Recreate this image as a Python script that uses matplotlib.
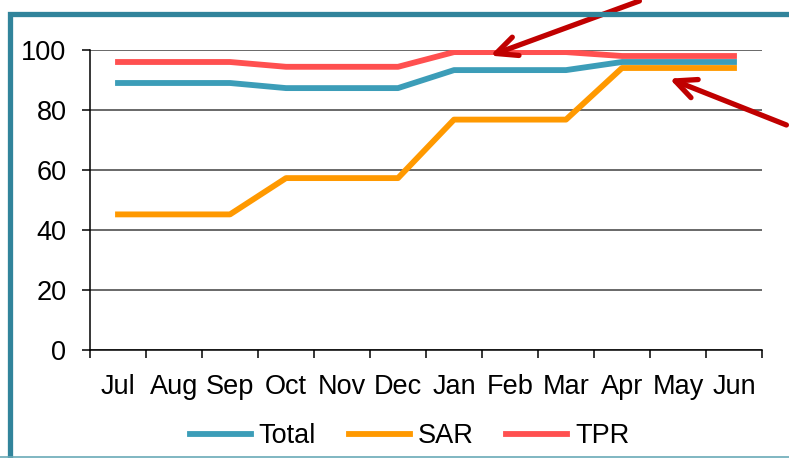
import matplotlib.pyplot as plt
from matplotlib.patches import Rectangle
from matplotlib.lines import Line2D

plt.rcParams['font.family'] = ['Liberation Sans', 'DejaVu Sans']

months = ['Jul', 'Aug', 'Sep', 'Oct', 'Nov', 'Dec', 'Jan', 'Feb', 'Mar', 'Apr', 'May', 'Jun']
total = [89, 89, 89, 87.3, 87.3, 87.3, 93.3, 93.3, 93.3, 96, 96, 96]
sar = [45.2, 45.2, 45.2, 57.3, 57.3, 57.3, 76.8, 76.8, 76.8, 94, 94, 94]
tpr = [96, 96, 96, 94.4, 94.4, 94.4, 99.3, 99.3, 99.3, 98, 98, 98]
yticks = [0, 20, 40, 60, 80, 100]

fig = plt.figure(figsize=(7.89, 4.58), dpi=100)
W, H = 789, 458
ax = fig.add_axes([90 / W, (H - 350) / H, (762 - 90) / W, 300 / H])

x = list(range(len(months)))
ax.plot(x, tpr, color='#FF5050', lw=4.2, label='TPR', zorder=3)
ax.plot(x, total, color='#3C9DB8', lw=4.2, label='Total', zorder=4)
ax.plot(x, sar, color='#FF9900', lw=4.2, label='SAR', zorder=5)

ax.set_xlim(-0.5, 11.5)
ax.set_ylim(0, 100)
ax.set_yticks(yticks)
ax.yaxis.grid(True, color='#404040', lw=1.1)
ax.set_axisbelow(True)
for s in ['top', 'right']:
    ax.spines[s].set_visible(False)
ax.spines['left'].set_linewidth(1.1)
ax.spines['bottom'].set_linewidth(1.1)

ax.set_xticks([i - 0.5 for i in range(13)])
ax.set_xticklabels([])
ax.set_xticks(x, minor=True)
ax.set_xticklabels(months, minor=True, fontsize=19.5)
ax.tick_params(axis='x', which='major', direction='out', length=6, width=1.1)
ax.tick_params(axis='x', which='minor', length=0, pad=17)
ax.tick_params(axis='y', direction='out', length=6, width=1.1, labelsize=19.5, pad=11)

# legend in order Total, SAR, TPR
handles = [Line2D([], [], color='#3C9DB8', lw=4.2),
           Line2D([], [], color='#FF9900', lw=4.2),
           Line2D([], [], color='#FF5050', lw=4.2)]
fig.legend(handles, ['Total', 'SAR', 'TPR'], loc='center', ncol=3,
           bbox_to_anchor=(0.519, (H - 436) / H), frameon=False, fontsize=19.5,
           handlelength=2.25, columnspacing=1.2, handletextpad=0.3)

# teal frame
fig.patches.append(Rectangle((9.5 / W, -0.02), 1.1, (H - 13.5) / H + 0.02,
                             transform=fig.transFigure, fill=False,
                             edgecolor='#31849B', lw=3.8, zorder=0))
fig.add_artist(Line2D([0, 1], [1.5 / H, 1.5 / H], transform=fig.transFigure,
                      color='#6AAAB8', lw=1.2))

# red arrows
arrow = dict(arrowstyle='->,head_length=0.75,head_width=0.35', color='#C00000',
             lw=3.8, capstyle='round', joinstyle='round', mutation_scale=20)
ax.annotate('', xy=(6.6, 97.8), xytext=(642 / W, 1.0),
            textcoords='figure fraction', arrowprops=arrow, annotation_clip=False)
ax.annotate('', xy=(9.8, 90.8), xytext=(1.0, (H - 126) / H),
            textcoords='figure fraction', arrowprops=arrow, annotation_clip=False)

fig.savefig('out.png', dpi=100)
